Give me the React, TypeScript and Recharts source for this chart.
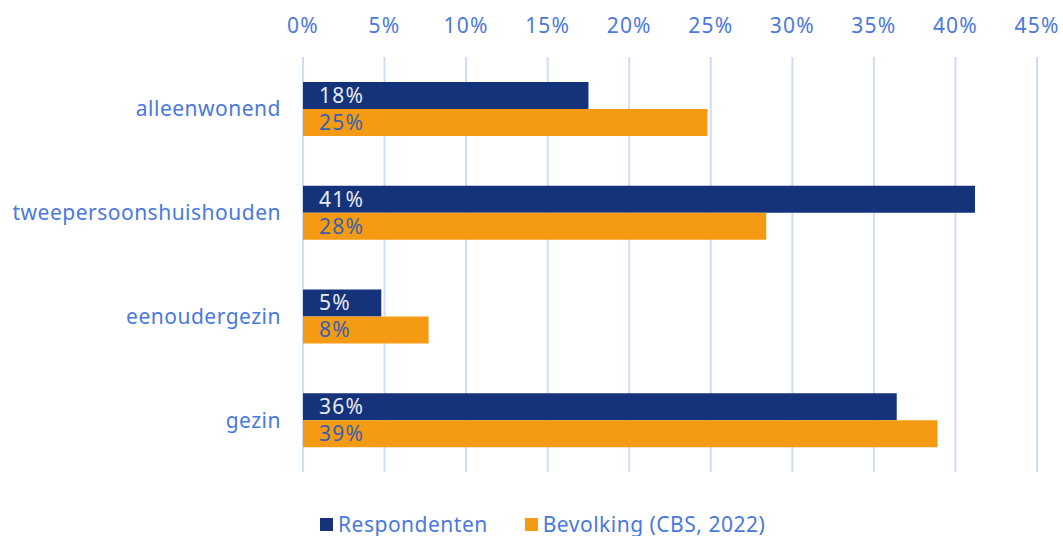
import React from "react";
import { BarChart, Bar, XAxis, YAxis, CartesianGrid, Legend, LabelList } from "recharts";

const categories = ["alleenwonend", "tweepersoonshuishouden", "eenoudergezin", "gezin"];
const respondenten = [17.5, 41.2, 4.8, 36.4];
const bevolking = [24.8, 28.4, 7.7, 38.9];
const xTicks = [0, 5, 10, 15, 20, 25, 30, 35, 40, 45];
const seriesNames = ["Respondenten", "Bevolking (CBS, 2022)"];
const seriesColors = ["#14337A", "#F49B13"];

const data = categories.map((c, i) => ({
  name: c,
  respondenten: respondenten[i],
  bevolking: bevolking[i],
}));

const FONT = "'Noto Sans', sans-serif";
const TEXT = "#4A78E0";

const renderLegend = () => (
  <div style={{ display: "flex", alignItems: "center", height: 28, lineHeight: "28px", fontFamily: FONT, fontSize: 21, letterSpacing: 0.5, color: TEXT }}>
    {seriesNames.map((n, i) => (
      <div key={n} style={{ display: "flex", alignItems: "center", marginRight: 37 }}>
        <span style={{ display: "inline-block", width: 13, height: 13, background: seriesColors[i], marginRight: 5 }} />
        <span>{n}</span>
      </div>
    ))}
  </div>
);

export default function App() {
  return (
    <div style={{ position: "absolute", left: 0, top: 0, width: 1063, height: 536, background: "#fff", fontFamily: FONT }}>
      <BarChart
        width={1063}
        height={536}
        data={data}
        layout="vertical"
        margin={{ top: 0, right: 26, bottom: 36, left: 0 }}
        barGap={0}
      >
        <CartesianGrid horizontal={false} stroke="#D0DCF6" strokeWidth={2} />
        <XAxis
          type="number"
          orientation="top"
          domain={[0, 45]}
          ticks={xTicks}
          tickFormatter={(v: number) => `${v}%`}
          axisLine={false}
          tickLine={false}
          height={57}
          tickMargin={18}
          tick={{ fill: TEXT, fontSize: 21, fontFamily: FONT, letterSpacing: 1.2 }}
          interval={0}
        />
        <YAxis
          type="category"
          dataKey="name"
          width={303}
          axisLine={false}
          tickLine={false}
          tickMargin={16}
          tick={{ fill: TEXT, fontSize: 21, fontFamily: FONT, letterSpacing: 0.5 }}
          interval={0}
        />
        <Legend
          verticalAlign="bottom"
          align="left"
          content={renderLegend}
          wrapperStyle={{ left: 320, top: 510, height: 28 }}
        />
        <Bar dataKey="respondenten" name={seriesNames[0]} fill={seriesColors[0]} barSize={27} isAnimationActive={false}>
          <LabelList
            dataKey="respondenten"
            position="insideLeft"
            offset={16}
            formatter={(v: number) => `${Math.round(v)}%`}
            style={{ fill: "#E6EAF3", fontSize: 21, fontFamily: FONT, letterSpacing: 1.2 }}
          />
        </Bar>
        <Bar dataKey="bevolking" name={seriesNames[1]} fill={seriesColors[1]} barSize={27} isAnimationActive={false}>
          <LabelList
            dataKey="bevolking"
            position="insideLeft"
            offset={16}
            formatter={(v: number) => `${Math.round(v)}%`}
            style={{ fill: "#3B5FAE", fontSize: 21, fontFamily: FONT, letterSpacing: 1.2 }}
          />
        </Bar>
      </BarChart>
    </div>
  );
}
